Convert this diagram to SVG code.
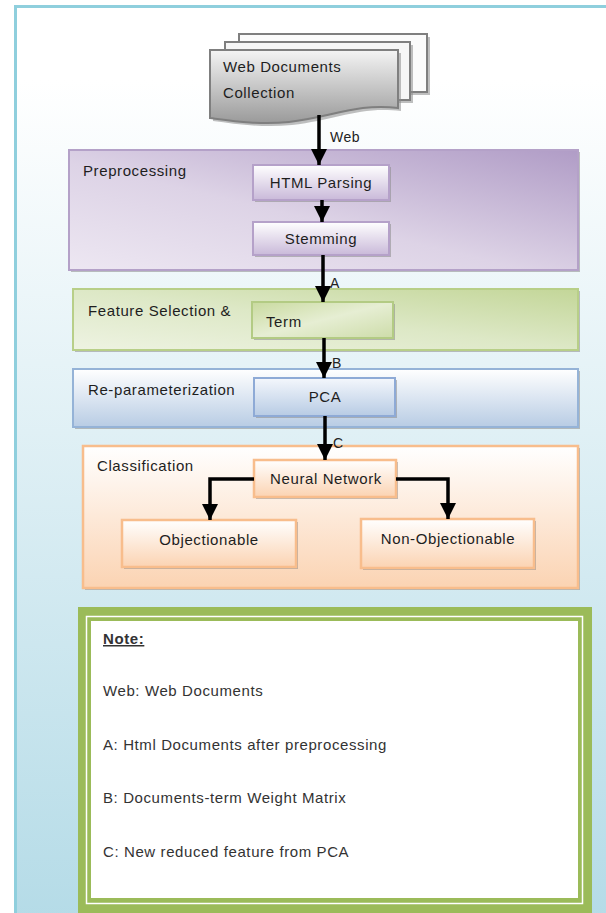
<svg xmlns="http://www.w3.org/2000/svg" width="606" height="913" viewBox="0 0 606 913">
  <defs>
    <linearGradient id="bgGrad" x1="0" y1="0" x2="0" y2="1">
      <stop offset="0" stop-color="#ffffff"/>
      <stop offset="0.08" stop-color="#ffffff"/>
      <stop offset="1" stop-color="#b4dbe7"/>
    </linearGradient>
    <linearGradient id="docGrad" x1="0" y1="0" x2="0" y2="1">
      <stop offset="0" stop-color="#f4f4f4"/>
      <stop offset="1" stop-color="#9a9a9a"/>
    </linearGradient>
    <linearGradient id="purpleBig" x1="0" y1="1" x2="1" y2="0">
      <stop offset="0" stop-color="#ede7f2"/>
      <stop offset="0.45" stop-color="#ddd3e6"/>
      <stop offset="1" stop-color="#b09cc6"/>
    </linearGradient>
    <linearGradient id="purpleSmall" x1="0" y1="0" x2="0" y2="1">
      <stop offset="0" stop-color="#ffffff"/>
      <stop offset="1" stop-color="#c9b9d9"/>
    </linearGradient>
    <linearGradient id="greenBig" x1="0" y1="1" x2="1" y2="0">
      <stop offset="0" stop-color="#eef3e2"/>
      <stop offset="0.5" stop-color="#dde8c6"/>
      <stop offset="1" stop-color="#c3d698"/>
    </linearGradient>
    <linearGradient id="greenSmall" x1="0" y1="0" x2="1" y2="1">
      <stop offset="0" stop-color="#c9da9f"/>
      <stop offset="0.5" stop-color="#e6eed3"/>
      <stop offset="1" stop-color="#cddca9"/>
    </linearGradient>
    <linearGradient id="blueBig" x1="0" y1="0" x2="0" y2="1">
      <stop offset="0" stop-color="#ffffff"/>
      <stop offset="1" stop-color="#b8cce4"/>
    </linearGradient>
    <linearGradient id="blueSmall" x1="0" y1="0" x2="0" y2="1">
      <stop offset="0" stop-color="#f4f7fc"/>
      <stop offset="1" stop-color="#b7cbe4"/>
    </linearGradient>
    <linearGradient id="orangeGrad" x1="0" y1="0" x2="0" y2="1">
      <stop offset="0" stop-color="#ffffff"/>
      <stop offset="1" stop-color="#fbd3b2"/>
    </linearGradient>
    <marker id="arrow" viewBox="0 0 10 10" refX="10" refY="5" markerWidth="16" markerHeight="16" markerUnits="userSpaceOnUse" orient="auto">
      <path d="M0,0 L10,5 L0,10 Z" fill="#000"/>
    </marker>
    <style>
      .t { font-family: "Liberation Sans", Arial, sans-serif; font-size: 15px; letter-spacing: 0.6px; fill: #1e1e1e; }
      .lbl { font-family: "Liberation Sans", Arial, sans-serif; font-size: 14px; letter-spacing: 0.5px; fill: #222; }
      .note { font-family: "Liberation Sans", Arial, sans-serif; font-size: 15px; letter-spacing: 0.6px; fill: #333; }
      .shadow { fill: #8a8a8a; opacity: 0.55; }
      .conn { fill: none; stroke: #000; stroke-width: 3.5; marker-end: url(#arrow); }
      .purpleS { fill: url(#purpleSmall); stroke: #b5a1c9; stroke-width: 2; }
      .orangeS { fill: url(#orangeGrad); stroke: #f8bd8c; stroke-width: 2.5; }
    </style>
  </defs>

  <!-- background frame -->
  <rect x="15.5" y="6.5" width="600" height="920" fill="url(#bgGrad)" stroke="#8fcfdd" stroke-width="3"/>

  <!-- document stack -->
  <g id="docs">
    <path d="M242,37 H430 V95 L244,95 Z" class="shadow"/>
    <path d="M239,34 H427 V92 L239,92 Z" fill="#fbfbfb" stroke="#7f7f7f" stroke-width="2"/>
    <path d="M228,45 H413 V103 L228,103 Z" class="shadow"/>
    <path d="M225,42 H410 V100 L225,100 Z" fill="#f6f6f6" stroke="#7f7f7f" stroke-width="2"/>
    <path d="M213,53 H401 V111 C360,106 335,120 292,125 C262,128 236,124 213,121 Z" class="shadow"/>
    <path d="M210,50 H398 V108 C357,103 332,117 289,122 C259,125 233,121 210,118 Z" fill="url(#docGrad)" stroke="#7f7f7f" stroke-width="2"/>
    <text class="t" x="223" y="72">Web Documents</text>
    <text class="t" x="223" y="98">Collection</text>
  </g>

  <!-- Preprocessing -->
  <g id="preprocessing">
    <rect x="71" y="152" width="509" height="120" class="shadow"/>
    <rect x="69" y="150" width="509" height="120" fill="url(#purpleBig)" stroke="#b4a1c8" stroke-width="2"/>
    <text class="t" x="83" y="176">Preprocessing</text>
  </g>
  <g id="html-parsing">
    <rect x="255" y="167" width="136" height="35" class="shadow"/>
    <rect x="253" y="165" width="136" height="35" class="purpleS"/>
    <text class="t" x="321" y="188" text-anchor="middle">HTML Parsing</text>
  </g>
  <g id="stemming">
    <rect x="255" y="224" width="136" height="33" class="shadow"/>
    <rect x="253" y="222" width="136" height="33" class="purpleS"/>
    <text class="t" x="321" y="244" text-anchor="middle">Stemming</text>
  </g>

  <!-- Feature Selection -->
  <g id="feature-selection">
    <rect x="75" y="291" width="505" height="61" class="shadow"/>
    <rect x="73" y="289" width="505" height="61" fill="url(#greenBig)" stroke="#b8cf88" stroke-width="2"/>
    <text class="t" x="88" y="316">Feature Selection &amp;</text>
  </g>
  <g id="term">
    <rect x="254" y="304" width="141" height="36" class="shadow"/>
    <rect x="252" y="302" width="141" height="36" fill="url(#greenSmall)" stroke="#b3cb84" stroke-width="2"/>
    <text class="t" x="266" y="327">Term</text>
  </g>

  <!-- Re-parameterization -->
  <g id="re-parameterization">
    <rect x="75" y="371" width="505" height="58" class="shadow"/>
    <rect x="73" y="369" width="505" height="58" fill="url(#blueBig)" stroke="#95b3d7" stroke-width="2"/>
    <text class="t" x="88" y="395">Re-parameterization</text>
  </g>
  <g id="pca">
    <rect x="256" y="380" width="141" height="38" class="shadow"/>
    <rect x="254" y="378" width="141" height="38" fill="url(#blueSmall)" stroke="#8eaad6" stroke-width="2"/>
    <text class="t" x="325" y="402" text-anchor="middle">PCA</text>
  </g>

  <!-- Classification -->
  <g id="classification">
    <rect x="85" y="448" width="495" height="142" class="shadow"/>
    <rect x="83" y="446" width="495" height="142" fill="url(#orangeGrad)" stroke="#f8bd8c" stroke-width="2.5"/>
    <text class="t" x="97" y="471">Classification</text>
  </g>
  <g id="neural-network">
    <rect x="256" y="462" width="142" height="37" class="shadow"/>
    <rect x="254" y="460" width="142" height="37" class="orangeS"/>
    <text class="t" x="326" y="484" text-anchor="middle">Neural Network</text>
  </g>
  <g id="objectionable">
    <rect x="124" y="522" width="174" height="47" class="shadow"/>
    <rect x="122" y="520" width="174" height="47" class="orangeS"/>
    <text class="t" x="209" y="545" text-anchor="middle">Objectionable</text>
  </g>
  <g id="non-objectionable">
    <rect x="363" y="521" width="173" height="49" class="shadow"/>
    <rect x="361" y="519" width="173" height="49" class="orangeS"/>
    <text class="t" x="448" y="544" text-anchor="middle">Non-Objectionable</text>
  </g>

  <!-- connectors -->
  <g id="connectors">
    <path class="conn" d="M319,115 V165"/>
    <path class="conn" d="M322,200 V222"/>
    <path class="conn" d="M323,255 V302"/>
    <path class="conn" d="M324,338 V378"/>
    <path class="conn" d="M325,416 V460"/>
    <path class="conn" d="M254,479 H210 V520"/>
    <path class="conn" d="M396,479 H448 V519"/>
    <text class="lbl" x="330" y="142">Web</text>
    <text class="lbl" x="330" y="288">A</text>
    <text class="lbl" x="332" y="368">B</text>
    <text class="lbl" x="333" y="448">C</text>
  </g>

  <!-- Note box -->
  <g id="note">
    <rect x="78" y="607" width="514" height="320" fill="#9bbb59"/>
    <rect x="86.5" y="616.5" width="496" height="287" fill="none" stroke="#ffffff" stroke-width="1.5"/>
    <rect x="91" y="621" width="487" height="277" fill="#ffffff"/>
    <text class="note" x="103" y="644" font-weight="bold" text-decoration="underline" fill="#222">Note:</text>
    <text class="note" x="103" y="696">Web: Web Documents</text>
    <text class="note" x="103" y="750">A: Html Documents after preprocessing</text>
    <text class="note" x="103" y="803">B: Documents-term Weight Matrix</text>
    <text class="note" x="103" y="857">C: New reduced feature from PCA</text>
  </g>
</svg>
